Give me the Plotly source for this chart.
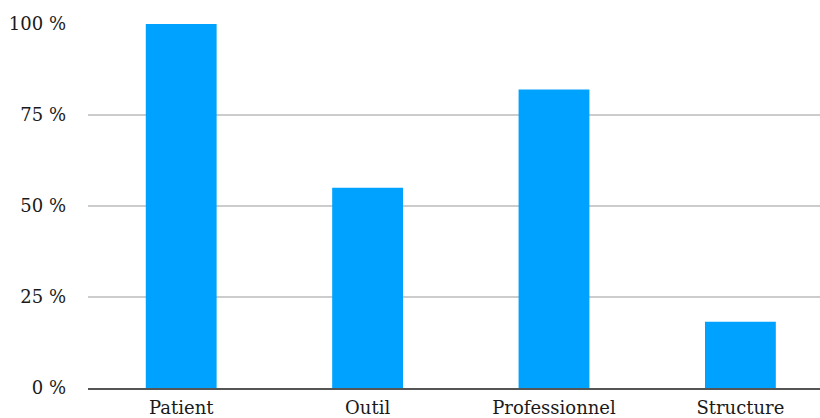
import plotly.graph_objects as go

categories = ["Patient", "Outil", "Professionnel", "Structure"]
values = [100, 55, 82, 18.2]
y_ticks = [0, 25, 50, 75, 100]
y_tick_labels = ["0 %", "25 %", "50 %", "75 %", "100 %"]

fig = go.Figure(
    go.Bar(
        x=list(range(len(categories))),
        y=values,
        width=0.38,
        marker=dict(color="#00a2ff", line=dict(width=0)),
    )
)

fig.update_layout(
    width=820,
    height=418,
    margin=dict(l=88, r=0, t=24, b=30),
    paper_bgcolor="white",
    plot_bgcolor="white",
    showlegend=False,
    font=dict(family="DejaVu Serif", size=18, color="#1a1a1a"),
    xaxis=dict(
        range=[-0.5, 3.427],
        tickmode="array",
        tickvals=list(range(len(categories))),
        ticktext=categories,
        showgrid=False,
        zeroline=False,
        showline=True,
        linecolor="#555555",
        linewidth=2,
        ticks="",
        ticklabelstandoff=2,
        automargin=False,
    ),
    yaxis=dict(
        range=[0, 100],
        tickmode="array",
        tickvals=y_ticks,
        ticktext=y_tick_labels,
        showgrid=True,
        gridcolor="#cccccc",
        gridwidth=1.5,
        zeroline=False,
        showline=False,
        ticks="",
        ticklabelstandoff=21,
        automargin=False,
    ),
)

fig.write_html("out.html")
